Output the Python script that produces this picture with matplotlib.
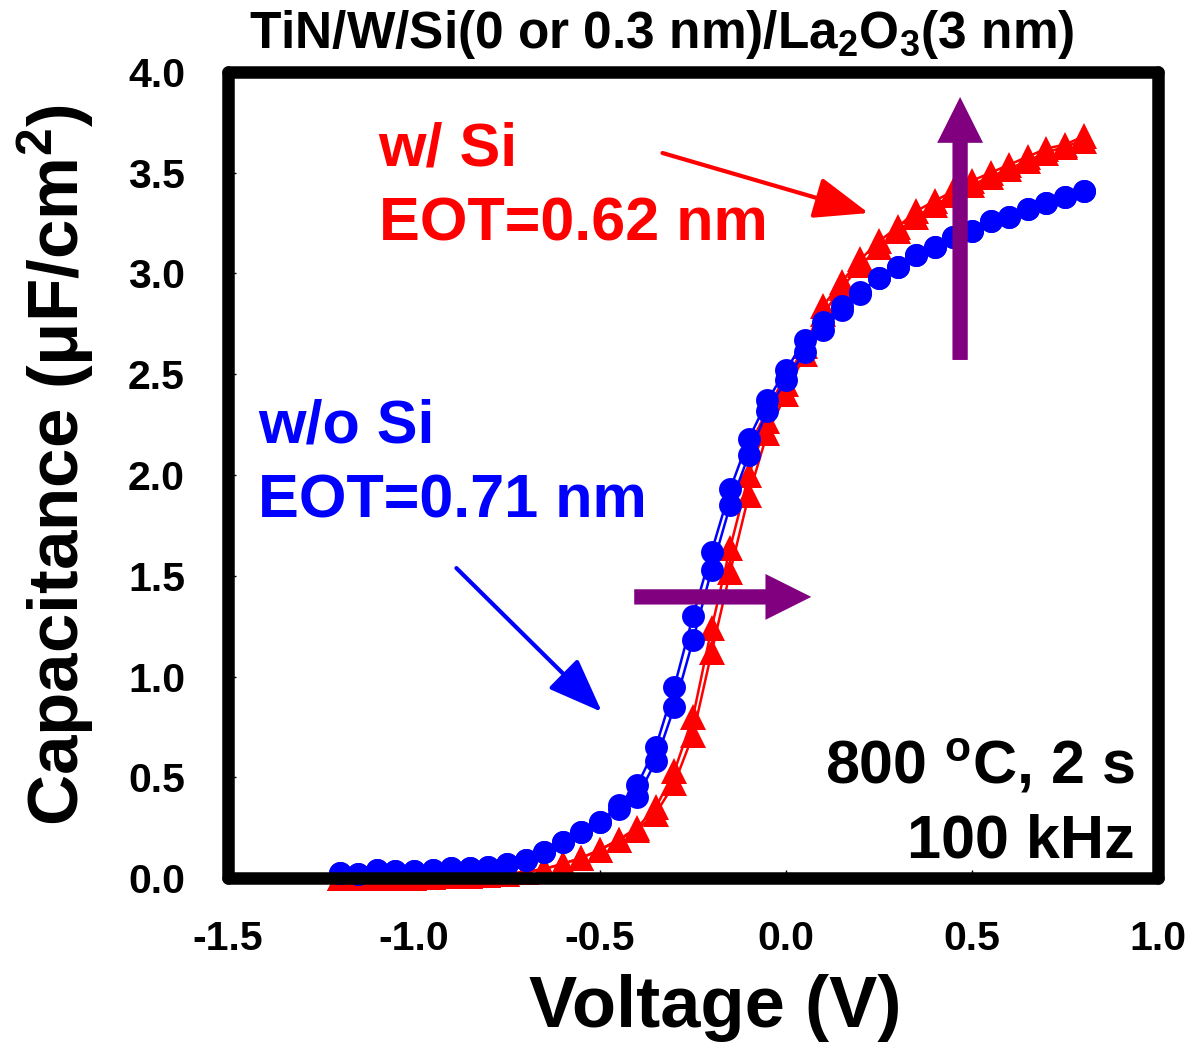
import matplotlib
matplotlib.use("Agg")
import matplotlib.pyplot as plt

plt.rcParams['font.family'] = ['Liberation Sans', 'DejaVu Sans']
plt.rcParams['font.weight'] = 'bold'
plt.rcParams['mathtext.fontset'] = 'custom'
plt.rcParams['mathtext.rm'] = 'Liberation Sans:bold'
plt.rcParams['mathtext.it'] = 'Liberation Sans:bold'
plt.rcParams['mathtext.bf'] = 'Liberation Sans:bold'

# Gate voltage sweep points (V)
voltage = [-1.20, -1.15, -1.10, -1.05, -1.00, -0.95, -0.90, -0.85, -0.80, -0.75,
           -0.70, -0.65, -0.60, -0.55, -0.50, -0.45, -0.40, -0.35, -0.30, -0.25,
           -0.20, -0.15, -0.10, -0.05, 0.00, 0.05, 0.10, 0.15, 0.20, 0.25,
           0.30, 0.35, 0.40, 0.45, 0.50, 0.55, 0.60, 0.65, 0.70, 0.75, 0.80]

# w/o Si (uF/cm2), two sweep directions
c_noSi_fwd = [0.025, 0.02, 0.04, 0.035, 0.035, 0.04, 0.05, 0.05, 0.055, 0.07,
              0.09, 0.13, 0.18, 0.23, 0.28, 0.36, 0.46, 0.65, 0.95, 1.30,
              1.62, 1.93, 2.18, 2.37, 2.52, 2.67, 2.76, 2.84, 2.91, 2.98,
              3.03, 3.09, 3.13, 3.18, 3.21, 3.26, 3.28, 3.32, 3.35, 3.38, 3.41]
c_noSi_rev = [0.025, 0.02, 0.04, 0.035, 0.035, 0.04, 0.05, 0.05, 0.055, 0.07,
              0.09, 0.13, 0.18, 0.23, 0.28, 0.34, 0.40, 0.58, 0.85, 1.18,
              1.53, 1.85, 2.10, 2.32, 2.47, 2.61, 2.72, 2.82, 2.90, 2.98,
              3.03, 3.09, 3.13, 3.18, 3.21, 3.26, 3.28, 3.32, 3.35, 3.38, 3.41]

# w/ Si (uF/cm2), two sweep directions
c_Si_fwd = [0.0, 0.0, 0.0, 0.0, 0.0, 0.005, 0.01, 0.01, 0.015, 0.02,
            0.03, 0.045, 0.07, 0.10, 0.14, 0.19, 0.25, 0.35, 0.53, 0.80,
            1.24, 1.64, 2.00, 2.27, 2.45, 2.64, 2.84, 2.96, 3.07, 3.16,
            3.23, 3.31, 3.36, 3.41, 3.46, 3.50, 3.54, 3.58, 3.62, 3.64, 3.68]
c_Si_rev = [0.0, 0.0, 0.0, 0.0, 0.0, 0.005, 0.01, 0.01, 0.015, 0.02,
            0.03, 0.045, 0.07, 0.10, 0.14, 0.19, 0.24, 0.32, 0.47, 0.71,
            1.12, 1.52, 1.90, 2.21, 2.40, 2.60, 2.80, 2.93, 3.04, 3.13,
            3.21, 3.28, 3.34, 3.39, 3.44, 3.48, 3.52, 3.56, 3.60, 3.63, 3.66]

x_ticks = [-1.5, -1.0, -0.5, 0.0, 0.5, 1.0]
y_ticks = [0.0, 0.5, 1.0, 1.5, 2.0, 2.5, 3.0, 3.5, 4.0]

RED = '#FF0000'
BLUE = '#0000FF'
PURPLE = '#800080'

fig = plt.figure(figsize=(11.89, 10.56), dpi=100)
ax = fig.add_axes([0.19176, 0.16856, 0.78217, 0.76326])

for c in (c_Si_fwd, c_Si_rev):
    ax.plot(voltage, c, color=RED, lw=1.8, marker='^', markersize=19,
            markeredgewidth=0, clip_on=False, zorder=3)
for c in (c_noSi_fwd, c_noSi_rev):
    ax.plot(voltage, c, color=BLUE, lw=1.8, marker='o', markersize=16.5,
            markeredgewidth=0, clip_on=False, zorder=4)

ax.set_xlim(-1.5, 1.0)
ax.set_ylim(0.0, 4.0)
ax.set_xticks(x_ticks)
ax.set_yticks(y_ticks)
ax.set_xticklabels([f'{t:.1f}' for t in x_ticks])
ax.set_yticklabels([f'{t:.1f}' for t in y_ticks])
ax.tick_params(axis='both', direction='in', length=6, width=1, labelsize=29.5)
ax.tick_params(axis='x', pad=30)
ax.tick_params(axis='y', pad=31)
for lbl in ax.get_xticklabels() + ax.get_yticklabels():
    lbl.set_fontweight('bold')

for sp in ax.spines.values():
    sp.set_linewidth(9)
    sp.set_capstyle('round')
    sp.set_joinstyle('round')
    sp.set_zorder(6)

ax.set_xlabel('Voltage (V)', fontsize=52, fontweight='bold')
ax.xaxis.set_label_coords(0.524, -0.119)
ax.set_ylabel('Capacitance (μF/cm$^2$)', fontsize=51, fontweight='bold')
ax.yaxis.set_label_coords(-0.142, 0.512)

ax.set_title('TiN/W/Si(0 or 0.3 nm)/La$_2$O$_3$(3 nm)', fontsize=37,
             fontweight='bold', x=0.466, y=1.03, pad=0)

# Sample annotations
ax.text(-1.095, 3.538, 'w/ Si', color=RED, fontsize=44, fontweight='bold',
        ha='left', va='baseline')
ax.text(-1.095, 3.166, 'EOT=0.62 nm', color=RED, fontsize=44, fontweight='bold',
        ha='left', va='baseline')
ax.text(-1.419, 2.159, 'w/o Si', color=BLUE, fontsize=44, fontweight='bold',
        ha='left', va='baseline')
ax.text(-1.419, 1.787, 'EOT=0.71 nm', color=BLUE, fontsize=44, fontweight='bold',
        ha='left', va='baseline')
ax.text(0.938, 0.471, '800 $^\\mathrm{o}$C, 2 s', fontsize=44, fontweight='bold',
        ha='right', va='baseline')
ax.text(0.938, 0.104, '100 kHz', fontsize=44, fontweight='bold',
        ha='right', va='baseline')

# Pointer arrows to each curve
ax.annotate('', xy=(0.222, 3.30), xytext=(-0.332, 3.598),
            arrowprops=dict(arrowstyle='-|>,head_length=1.3,head_width=0.5',
                            color=RED, lw=3, mutation_scale=26,
                            shrinkA=0, shrinkB=0), zorder=5)
ax.annotate('', xy=(-0.495, 0.824), xytext=(-0.886, 1.538),
            arrowprops=dict(arrowstyle='-|>,head_length=1.3,head_width=0.5',
                            color=BLUE, lw=3, mutation_scale=26,
                            shrinkA=0, shrinkB=0), zorder=5)

# Trend arrows: Vfb shift and capacitance increase
ax.annotate('', xy=(0.068, 1.395), xytext=(-0.408, 1.395),
            arrowprops=dict(arrowstyle='simple,head_length=3.3,head_width=3.3,tail_width=1.1',
                            color=PURPLE, lw=0, mutation_scale=10,
                            shrinkA=0, shrinkB=0), zorder=7)
ax.annotate('', xy=(0.468, 3.876), xytext=(0.468, 2.571),
            arrowprops=dict(arrowstyle='simple,head_length=3.3,head_width=3.3,tail_width=1.1',
                            color=PURPLE, lw=0, mutation_scale=10,
                            shrinkA=0, shrinkB=0), zorder=7)

fig.savefig('out.png', dpi=100)
